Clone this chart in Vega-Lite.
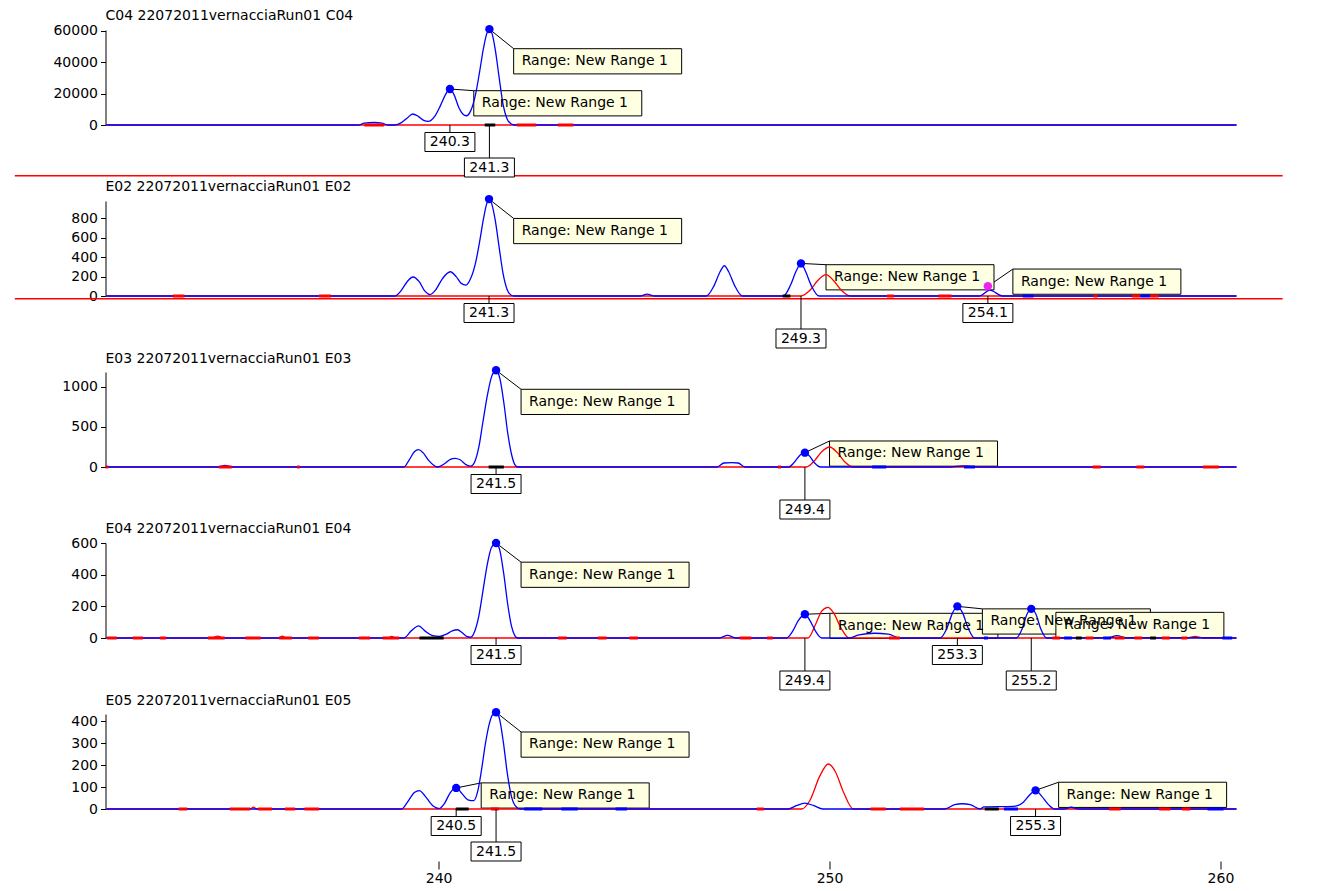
{
"$schema":"https://vega.github.io/schema/vega-lite/v6.json",
"background":"white",
"padding":{"left":13.5,"top":9,"right":5,"bottom":5},
"spacing":76,
"bounds":"flush",
"config":{
 "view":{"stroke":null},
 "font":"DejaVu Sans",
 "axis":{"labelFont":"DejaVu Sans","labelFontSize":14,"labelColor":"#000000","tickColor":"#000000","domainColor":"#000000","grid":false,"tickWidth":1,"domainWidth":1,"labelFlush":false},
 "axisY":{"tickSize":5,"labelPadding":3},
 "axisX":{"domain":false,"tickSize":8,"labelPadding":2,"offset":52},
 "title":{"font":"DejaVu Sans","fontSize":14,"fontWeight":"normal","anchor":"start","color":"#000000","frame":"group"},
 "text":{"font":"DejaVu Sans"}
},
"datasets":{
 "C04b":[{"x":231.5,"y":0},{"x":237.95,"y":0},{"x":238.1,"y":1200},{"x":238.35,"y":1600},{"x":238.55,"y":1200},{"x":238.7,"y":0},{"x":238.88,"y":0},{"x":239.05,"y":1500},{"x":239.2,"y":4500},{"x":239.34,"y":7000},{"x":239.48,"y":5500},{"x":239.62,"y":3000},{"x":239.74,"y":2300},{"x":239.9,"y":5500},{"x":240.05,"y":12500},{"x":240.18,"y":19500},{"x":240.29,"y":22900},{"x":240.4,"y":19000},{"x":240.52,"y":11000},{"x":240.62,"y":7000},{"x":240.71,"y":5900},{"x":240.82,"y":9000},{"x":240.95,"y":20000},{"x":241.05,"y":34000},{"x":241.15,"y":49000},{"x":241.23,"y":58000},{"x":241.3,"y":61000},{"x":241.37,"y":58000},{"x":241.45,"y":48000},{"x":241.55,"y":30000},{"x":241.65,"y":13000},{"x":241.75,"y":4000},{"x":241.85,"y":800},{"x":241.95,"y":0},{"x":260.41,"y":0}],
 "C04r":[{"x":231.5,"y":0},{"x":260.41,"y":0}],
 "E02b":[{"x":231.5,"y":0},{"x":238.88,"y":0},{"x":239.05,"y":60},{"x":239.2,"y":150},{"x":239.35,"y":196},{"x":239.5,"y":150},{"x":239.65,"y":50},{"x":239.78,"y":15},{"x":239.92,"y":60},{"x":240.1,"y":180},{"x":240.3,"y":250},{"x":240.45,"y":200},{"x":240.58,"y":130},{"x":240.7,"y":113},{"x":240.82,"y":180},{"x":240.95,"y":350},{"x":241.05,"y":560},{"x":241.15,"y":800},{"x":241.23,"y":950},{"x":241.29,"y":1000},{"x":241.36,"y":950},{"x":241.45,"y":780},{"x":241.55,"y":500},{"x":241.65,"y":230},{"x":241.75,"y":70},{"x":241.85,"y":10},{"x":241.93,"y":0},{"x":245.15,"y":0},{"x":245.33,"y":20},{"x":245.53,"y":0},{"x":246.85,"y":0},{"x":247.05,"y":110},{"x":247.2,"y":250},{"x":247.31,"y":312},{"x":247.42,"y":250},{"x":247.57,"y":110},{"x":247.77,"y":0},{"x":248.82,"y":0},{"x":249.0,"y":110},{"x":249.15,"y":260},{"x":249.27,"y":336},{"x":249.38,"y":260},{"x":249.53,"y":110},{"x":249.73,"y":0},{"x":253.84,"y":0},{"x":254.1,"y":60},{"x":254.43,"y":0},{"x":260.41,"y":0}],
 "E02r":[{"x":231.5,"y":0},{"x":249.26,"y":0},{"x":249.5,"y":60},{"x":249.7,"y":160},{"x":249.91,"y":220},{"x":250.1,"y":160},{"x":250.3,"y":60},{"x":250.54,"y":0},{"x":260.41,"y":0}],
 "E03b":[{"x":231.5,"y":0},{"x":234.37,"y":0},{"x":234.54,"y":20},{"x":234.71,"y":0},{"x":239.11,"y":0},{"x":239.25,"y":90},{"x":239.38,"y":190},{"x":239.49,"y":217},{"x":239.6,"y":180},{"x":239.75,"y":80},{"x":239.97,"y":0},{"x":240.15,"y":40},{"x":240.3,"y":95},{"x":240.42,"y":108},{"x":240.55,"y":90},{"x":240.7,"y":30},{"x":240.82,"y":10},{"x":240.92,"y":60},{"x":241.03,"y":250},{"x":241.13,"y":550},{"x":241.25,"y":900},{"x":241.35,"y":1120},{"x":241.47,"y":1209},{"x":241.57,"y":1100},{"x":241.67,"y":800},{"x":241.77,"y":420},{"x":241.87,"y":150},{"x":241.95,"y":30},{"x":242.02,"y":0},{"x":247.12,"y":0},{"x":247.3,"y":50},{"x":247.5,"y":54},{"x":247.66,"y":50},{"x":247.84,"y":0},{"x":248.96,"y":0},{"x":249.1,"y":60},{"x":249.25,"y":150},{"x":249.37,"y":179},{"x":249.5,"y":130},{"x":249.62,"y":50},{"x":249.77,"y":0},{"x":253.08,"y":0},{"x":253.4,"y":15},{"x":253.72,"y":0},{"x":260.41,"y":0}],
 "E03r":[{"x":231.5,"y":0},{"x":249.41,"y":0},{"x":249.6,"y":70},{"x":249.8,"y":190},{"x":250.0,"y":250},{"x":250.2,"y":180},{"x":250.4,"y":60},{"x":250.61,"y":0},{"x":260.41,"y":0}],
 "E04b":[{"x":231.5,"y":0},{"x":239.11,"y":0},{"x":239.3,"y":45},{"x":239.49,"y":77},{"x":239.65,"y":45},{"x":239.85,"y":15},{"x":240.02,"y":10},{"x":240.2,"y":25},{"x":240.35,"y":45},{"x":240.48,"y":52},{"x":240.6,"y":35},{"x":240.72,"y":10},{"x":240.82,"y":5},{"x":240.92,"y":40},{"x":241.03,"y":140},{"x":241.13,"y":290},{"x":241.25,"y":470},{"x":241.35,"y":570},{"x":241.47,"y":600},{"x":241.57,"y":550},{"x":241.67,"y":400},{"x":241.77,"y":210},{"x":241.87,"y":70},{"x":241.95,"y":15},{"x":242.02,"y":0},{"x":247.18,"y":0},{"x":247.39,"y":17},{"x":247.6,"y":0},{"x":248.9,"y":0},{"x":249.05,"y":40},{"x":249.2,"y":110},{"x":249.37,"y":150},{"x":249.5,"y":110},{"x":249.65,"y":40},{"x":249.8,"y":0},{"x":250.5,"y":0},{"x":250.75,"y":20},{"x":251.15,"y":30},{"x":251.5,"y":25},{"x":251.8,"y":0},{"x":252.83,"y":0},{"x":253.0,"y":60},{"x":253.15,"y":160},{"x":253.27,"y":200},{"x":253.4,"y":160},{"x":253.55,"y":60},{"x":253.71,"y":0},{"x":254.78,"y":0},{"x":254.93,"y":60},{"x":255.05,"y":150},{"x":255.16,"y":184},{"x":255.28,"y":150},{"x":255.4,"y":60},{"x":255.55,"y":0},{"x":257.1,"y":0},{"x":257.35,"y":15},{"x":257.6,"y":0},{"x":260.41,"y":0}],
 "E04r":[{"x":231.5,"y":0},{"x":234.2,"y":0},{"x":234.35,"y":12},{"x":234.49,"y":0},{"x":235.91,"y":0},{"x":236.0,"y":12},{"x":236.1,"y":0},{"x":238.7,"y":0},{"x":238.8,"y":10},{"x":238.9,"y":0},{"x":249.45,"y":0},{"x":249.65,"y":90},{"x":249.8,"y":170},{"x":249.96,"y":194},{"x":250.1,"y":160},{"x":250.3,"y":60},{"x":250.5,"y":0},{"x":259.15,"y":0},{"x":259.35,"y":10},{"x":259.55,"y":0},{"x":260.41,"y":0}],
 "E05b":[{"x":231.5,"y":0},{"x":239.05,"y":0},{"x":239.2,"y":30},{"x":239.38,"y":75},{"x":239.51,"y":84},{"x":239.65,"y":60},{"x":239.85,"y":15},{"x":240.02,"y":2},{"x":240.15,"y":25},{"x":240.3,"y":75},{"x":240.45,"y":96},{"x":240.6,"y":70},{"x":240.75,"y":42},{"x":240.9,"y":38},{"x":241.0,"y":80},{"x":241.1,"y":180},{"x":241.2,"y":300},{"x":241.3,"y":390},{"x":241.38,"y":430},{"x":241.47,"y":441},{"x":241.56,"y":410},{"x":241.66,"y":300},{"x":241.76,"y":160},{"x":241.86,"y":60},{"x":241.96,"y":15},{"x":242.08,"y":0},{"x":248.94,"y":0},{"x":249.15,"y":15},{"x":249.37,"y":27},{"x":249.6,"y":15},{"x":249.83,"y":0},{"x":252.95,"y":0},{"x":253.2,"y":20},{"x":253.4,"y":24},{"x":253.6,"y":20},{"x":253.85,"y":0},{"x":253.95,"y":10},{"x":254.7,"y":12},{"x":254.81,"y":15},{"x":254.95,"y":30},{"x":255.1,"y":60},{"x":255.27,"y":85},{"x":255.42,"y":60},{"x":255.6,"y":20},{"x":255.76,"y":0},{"x":256.0,"y":0},{"x":256.18,"y":8},{"x":256.37,"y":0},{"x":260.41,"y":0}],
 "E05r":[{"x":231.5,"y":0},{"x":235.18,"y":0},{"x":235.26,"y":8},{"x":235.35,"y":0},{"x":249.29,"y":0},{"x":249.5,"y":40},{"x":249.75,"y":150},{"x":249.97,"y":205},{"x":250.15,"y":170},{"x":250.35,"y":80},{"x":250.61,"y":0},{"x":260.41,"y":0}],
 "pk":[
  {"p":"C04","x":241.3,"y":61000,"lx":241.92,"ly":48550,"c":"b"},
  {"p":"C04","x":240.29,"y":22900,"lx":240.9,"ly":21830,"c":"b"},
  {"p":"E02","x":241.29,"y":1000,"lx":241.92,"ly":800,"c":"b"},
  {"p":"E02","x":249.27,"y":336,"lx":249.91,"ly":323,"c":"b"},
  {"p":"E02","x":254.05,"y":100,"lx":254.69,"ly":278,"c":"m"},
  {"p":"E03","x":241.47,"y":1209,"lx":242.11,"ly":971,"c":"b"},
  {"p":"E03","x":249.37,"y":179,"lx":250.0,"ly":325,"c":"b"},
  {"p":"E04","x":241.47,"y":600,"lx":242.11,"ly":479,"c":"b"},
  {"p":"E04","x":249.37,"y":150,"lx":250.01,"ly":156,"c":"b"},
  {"p":"E04","x":253.27,"y":200,"lx":253.91,"ly":184,"c":"b"},
  {"p":"E04","x":255.16,"y":184,"lx":255.79,"ly":162,"c":"b"},
  {"p":"E05","x":241.47,"y":441,"lx":242.11,"ly":351,"c":"b"},
  {"p":"E05","x":240.45,"y":96,"lx":241.09,"ly":119,"c":"b"},
  {"p":"E05","x":255.27,"y":85,"lx":255.86,"ly":122,"c":"b"}
 ],
 "bn":[
  {"p":"C04","x":240.29,"lab":"240.3","lvl":1},
  {"p":"C04","x":241.3,"lab":"241.3","lvl":2},
  {"p":"E02","x":241.29,"lab":"241.3","lvl":1},
  {"p":"E02","x":249.27,"lab":"249.3","lvl":2},
  {"p":"E02","x":254.05,"lab":"254.1","lvl":1},
  {"p":"E03","x":241.47,"lab":"241.5","lvl":1},
  {"p":"E03","x":249.37,"lab":"249.4","lvl":2},
  {"p":"E04","x":241.47,"lab":"241.5","lvl":1},
  {"p":"E04","x":249.37,"lab":"249.4","lvl":2},
  {"p":"E04","x":253.27,"lab":"253.3","lvl":1},
  {"p":"E04","x":255.16,"lab":"255.2","lvl":2},
  {"p":"E05","x":240.45,"lab":"240.5","lvl":1},
  {"p":"E05","x":241.47,"lab":"241.5","lvl":2},
  {"p":"E05","x":255.27,"lab":"255.3","lvl":1}
 ],
 "ds":[
  {"p":"C04","x":238.1,"x2":238.6,"c":"r"},{"p":"C04","x":241.18,"x2":241.45,"c":"k"},{"p":"C04","x":242.0,"x2":242.5,"c":"r"},{"p":"C04","x":243.05,"x2":243.45,"c":"r"},
  {"p":"E02","x":233.2,"x2":233.5,"c":"r"},{"p":"E02","x":236.94,"x2":237.25,"c":"r"},{"p":"E02","x":248.8,"x2":249.0,"c":"k"},{"p":"E02","x":251.47,"x2":251.65,"c":"r"},{"p":"E02","x":252.78,"x2":253.12,"c":"r"},{"p":"E02","x":254.94,"x2":255.22,"c":"b"},{"p":"E02","x":256.75,"x2":256.85,"c":"r"},{"p":"E02","x":257.73,"x2":257.95,"c":"r"},{"p":"E02","x":257.95,"x2":258.2,"c":"b"},{"p":"E02","x":258.2,"x2":258.42,"c":"r"},
  {"p":"E03","x":231.48,"x2":231.55,"c":"r"},{"p":"E03","x":234.38,"x2":234.71,"c":"r"},{"p":"E03","x":236.38,"x2":236.45,"c":"r"},{"p":"E03","x":241.28,"x2":241.67,"c":"k"},{"p":"E03","x":248.68,"x2":248.76,"c":"r"},{"p":"E03","x":251.09,"x2":251.45,"c":"b"},{"p":"E03","x":253.44,"x2":253.72,"c":"b"},{"p":"E03","x":256.73,"x2":256.94,"c":"r"},{"p":"E03","x":257.85,"x2":258.05,"c":"r"},{"p":"E03","x":259.55,"x2":259.96,"c":"r"},
  {"p":"E04","x":231.52,"x2":231.77,"c":"r"},{"p":"E04","x":232.18,"x2":232.44,"c":"r"},{"p":"E04","x":232.87,"x2":233.03,"c":"r"},{"p":"E04","x":234.1,"x2":234.53,"c":"r"},{"p":"E04","x":235.06,"x2":235.45,"c":"r"},{"p":"E04","x":235.92,"x2":236.25,"c":"r"},{"p":"E04","x":236.66,"x2":236.94,"c":"r"},{"p":"E04","x":237.96,"x2":238.25,"c":"r"},{"p":"E04","x":238.57,"x2":238.99,"c":"r"},{"p":"E04","x":239.51,"x2":240.13,"c":"k"},{"p":"E04","x":243.05,"x2":243.28,"c":"r"},{"p":"E04","x":244.07,"x2":244.3,"c":"r"},{"p":"E04","x":244.88,"x2":245.1,"c":"r"},{"p":"E04","x":247.7,"x2":248.0,"c":"r"},{"p":"E04","x":248.4,"x2":248.55,"c":"r"},{"p":"E04","x":251.52,"x2":251.8,"c":"r"},{"p":"E04","x":253.95,"x2":254.05,"c":"b"},{"p":"E04","x":255.7,"x2":255.9,"c":"r"},{"p":"E04","x":256.0,"x2":256.2,"c":"b"},{"p":"E04","x":256.3,"x2":256.45,"c":"k"},{"p":"E04","x":256.55,"x2":256.75,"c":"r"},{"p":"E04","x":257.0,"x2":257.2,"c":"b"},{"p":"E04","x":257.3,"x2":257.55,"c":"r"},{"p":"E04","x":257.8,"x2":258.0,"c":"r"},{"p":"E04","x":258.2,"x2":258.35,"c":"k"},{"p":"E04","x":258.5,"x2":258.7,"c":"r"},{"p":"E04","x":259.0,"x2":259.15,"c":"r"},{"p":"E04","x":260.05,"x2":260.3,"c":"b"},
  {"p":"E05","x":233.35,"x2":233.57,"c":"r"},{"p":"E05","x":234.66,"x2":235.18,"c":"r"},{"p":"E05","x":235.38,"x2":235.74,"c":"r"},{"p":"E05","x":236.07,"x2":236.33,"c":"r"},{"p":"E05","x":236.57,"x2":236.94,"c":"r"},{"p":"E05","x":240.44,"x2":240.77,"c":"k"},{"p":"E05","x":241.34,"x2":241.54,"c":"r"},{"p":"E05","x":242.19,"x2":242.65,"c":"b"},{"p":"E05","x":243.14,"x2":243.56,"c":"b"},{"p":"E05","x":244.53,"x2":244.82,"c":"b"},{"p":"E05","x":248.14,"x2":248.32,"c":"r"},{"p":"E05","x":251.05,"x2":251.44,"c":"r"},{"p":"E05","x":251.8,"x2":252.42,"c":"r"},{"p":"E05","x":253.97,"x2":254.33,"c":"k"},{"p":"E05","x":254.46,"x2":254.82,"c":"b"},{"p":"E05","x":257.15,"x2":257.45,"c":"r"},{"p":"E05","x":258.43,"x2":258.72,"c":"r"},{"p":"E05","x":259.02,"x2":259.23,"c":"r"},{"p":"E05","x":259.67,"x2":260.08,"c":"b"}
 ],
 "one":[{"k":1}]
},
"vconcat":[
 {"width":1131,"height":95,"title":{"text":"C04 22072011vernacciaRun01 C04","offset":-10.5,"baseline":"alphabetic","frame":"group","anchor":"start"},
  "layer":[
   {"data":{"name":"one"},"mark":{"type":"rule","color":"#ff0000","strokeWidth":1.5},
    "encoding":{"x":{"datum":229.16,"type":"quantitative","axis":null,"title":null},"x2":{"datum":261.59},"y":{"datum":-32260,"type":"quantitative","title":null}}},
   {"data":{"name":"pk"},"transform":[{"filter":"datum.p=='C04'"}],"mark":{"type":"rule","color":"#000000","strokeWidth":1},
    "encoding":{"x":{"field":"x","type":"quantitative","axis":null,"title":null},"y":{"field":"y","type":"quantitative","title":null},"x2":{"field":"lx"},"y2":{"field":"ly"}}},
   {"data":{"name":"pk"},"transform":[{"filter":"datum.p=='C04'"}],"mark":{"type":"point","shape":"M0,0L2,0L2,0.3L0,0.3Z","size":28224,"filled":true,"fill":"#ffffe1","stroke":"#000000","strokeWidth":1,"opacity":1},
    "encoding":{"x":{"field":"lx","type":"quantitative","axis":null,"title":null},"y":{"field":"ly","type":"quantitative","title":null}}},
   {"data":{"name":"C04r"},"mark":{"type":"line","color":"#ff0000","strokeWidth":1.3,"interpolate":"monotone"},
    "encoding":{"x":{"field":"x","type":"quantitative","scale":{"domain":[231.48,260.41],"nice":false,"zero":false},"axis":null,"title":null},
                "y":{"field":"y","type":"quantitative","scale":{"domain":[0,60450],"nice":false,"zero":false},"axis":{"values":[0,20000,40000,60000],"tickCount":20,"format":"d","title":null},"title":null}}},
   {"data":{"name":"C04b"},"mark":{"type":"line","color":"#0000ff","strokeWidth":1.3,"interpolate":"monotone"},
    "encoding":{"x":{"field":"x","type":"quantitative","axis":null,"title":null},"y":{"field":"y","type":"quantitative","title":null}}},
   {"data":{"name":"ds"},"transform":[{"filter":"datum.p=='C04'"}],"mark":{"type":"rule","strokeWidth":3},
    "encoding":{"x":{"field":"x","type":"quantitative","axis":null,"title":null},"x2":{"field":"x2"},"y":{"datum":0,"type":"quantitative","title":null},"color":{"field":"c","type":"nominal","scale":{"domain":["r","k","b","m"],"range":["#ff0000","#000000","#0000ff","#ee22ee"]},"legend":null}}},
   {"data":{"name":"pk"},"transform":[{"filter":"datum.p=='C04'"}],"mark":{"type":"text","text":"Range: New Range 1","align":"left","baseline":"middle","dx":8,"dy":12.5,"fontSize":14,"color":"#000000"},
    "encoding":{"x":{"field":"lx","type":"quantitative","axis":null,"title":null},"y":{"field":"ly","type":"quantitative","title":null}}},
   {"data":{"name":"pk"},"transform":[{"filter":"datum.p=='C04'"}],"mark":{"type":"point","shape":"circle","size":70,"filled":true,"opacity":1},
    "encoding":{"x":{"field":"x","type":"quantitative","axis":null,"title":null},"y":{"field":"y","type":"quantitative","title":null},"color":{"field":"c","type":"nominal","scale":{"domain":["r","k","b","m"],"range":["#ff0000","#000000","#0000ff","#ee22ee"]},"legend":null}}},
   {"data":{"name":"bn"},"transform":[{"filter":"datum.p=='C04' && datum.lvl==1"}],"mark":{"type":"rule","color":"#000000","y2Offset":7.5},
    "encoding":{"x":{"field":"x","type":"quantitative","axis":null,"title":null},"y":{"datum":0,"type":"quantitative","title":null},"y2":{"datum":0}}},
   {"data":{"name":"bn"},"transform":[{"filter":"datum.p=='C04' && datum.lvl==1"}],"mark":{"type":"point","shape":"M-1,0L1,0L1,0.76L-1,0.76Z","size":2500,"filled":true,"fill":"#ffffff","stroke":"#000000","strokeWidth":1,"opacity":1,"yOffset":7.5},
    "encoding":{"x":{"field":"x","type":"quantitative","axis":null,"title":null},"y":{"datum":0,"type":"quantitative","title":null}}},
   {"data":{"name":"bn"},"transform":[{"filter":"datum.p=='C04' && datum.lvl==1"}],"mark":{"type":"text","align":"center","baseline":"middle","fontSize":14,"color":"#000000","yOffset":17},
    "encoding":{"x":{"field":"x","type":"quantitative","axis":null,"title":null},"y":{"datum":0,"type":"quantitative","title":null},"text":{"field":"lab","type":"nominal"}}},
   {"data":{"name":"bn"},"transform":[{"filter":"datum.p=='C04' && datum.lvl==2"}],"mark":{"type":"rule","color":"#000000","y2Offset":33},
    "encoding":{"x":{"field":"x","type":"quantitative","axis":null,"title":null},"y":{"datum":0,"type":"quantitative","title":null},"y2":{"datum":0}}},
   {"data":{"name":"bn"},"transform":[{"filter":"datum.p=='C04' && datum.lvl==2"}],"mark":{"type":"point","shape":"M-1,0L1,0L1,0.76L-1,0.76Z","size":2500,"filled":true,"fill":"#ffffff","stroke":"#000000","strokeWidth":1,"opacity":1,"yOffset":33},
    "encoding":{"x":{"field":"x","type":"quantitative","axis":null,"title":null},"y":{"datum":0,"type":"quantitative","title":null}}},
   {"data":{"name":"bn"},"transform":[{"filter":"datum.p=='C04' && datum.lvl==2"}],"mark":{"type":"text","align":"center","baseline":"middle","fontSize":14,"color":"#000000","yOffset":42.5},
    "encoding":{"x":{"field":"x","type":"quantitative","axis":null,"title":null},"y":{"datum":0,"type":"quantitative","title":null},"text":{"field":"lab","type":"nominal"}}}
  ]},
 {"width":1131,"height":95,"title":{"text":"E02 22072011vernacciaRun01 E02","offset":-10.5,"baseline":"alphabetic","frame":"group","anchor":"start"},
  "layer":[
   {"data":{"name":"one"},"mark":{"type":"rule","color":"#ff0000","strokeWidth":1.5},
    "encoding":{"x":{"datum":229.16,"type":"quantitative","axis":null,"title":null},"x2":{"datum":261.59},"y":{"datum":-28,"type":"quantitative","title":null}}},
   {"data":{"name":"pk"},"transform":[{"filter":"datum.p=='E02'"}],"mark":{"type":"rule","color":"#000000","strokeWidth":1},
    "encoding":{"x":{"field":"x","type":"quantitative","axis":null,"title":null},"y":{"field":"y","type":"quantitative","title":null},"x2":{"field":"lx"},"y2":{"field":"ly"}}},
   {"data":{"name":"pk"},"transform":[{"filter":"datum.p=='E02'"}],"mark":{"type":"point","shape":"M0,0L2,0L2,0.3L0,0.3Z","size":28224,"filled":true,"fill":"#ffffe1","stroke":"#000000","strokeWidth":1,"opacity":1},
    "encoding":{"x":{"field":"lx","type":"quantitative","axis":null,"title":null},"y":{"field":"ly","type":"quantitative","title":null}}},
   {"data":{"name":"E02r"},"mark":{"type":"line","color":"#ff0000","strokeWidth":1.3,"interpolate":"monotone"},
    "encoding":{"x":{"field":"x","type":"quantitative","scale":{"domain":[231.48,260.41],"nice":false,"zero":false},"axis":null,"title":null},
                "y":{"field":"y","type":"quantitative","scale":{"domain":[0,980],"nice":false,"zero":false},"axis":{"values":[0,200,400,600,800],"tickCount":20,"format":"d","title":null},"title":null}}},
   {"data":{"name":"E02b"},"mark":{"type":"line","color":"#0000ff","strokeWidth":1.3,"interpolate":"monotone"},
    "encoding":{"x":{"field":"x","type":"quantitative","axis":null,"title":null},"y":{"field":"y","type":"quantitative","title":null}}},
   {"data":{"name":"ds"},"transform":[{"filter":"datum.p=='E02'"}],"mark":{"type":"rule","strokeWidth":3},
    "encoding":{"x":{"field":"x","type":"quantitative","axis":null,"title":null},"x2":{"field":"x2"},"y":{"datum":0,"type":"quantitative","title":null},"color":{"field":"c","type":"nominal","scale":{"domain":["r","k","b","m"],"range":["#ff0000","#000000","#0000ff","#ee22ee"]},"legend":null}}},
   {"data":{"name":"pk"},"transform":[{"filter":"datum.p=='E02'"}],"mark":{"type":"text","text":"Range: New Range 1","align":"left","baseline":"middle","dx":8,"dy":12.5,"fontSize":14,"color":"#000000"},
    "encoding":{"x":{"field":"lx","type":"quantitative","axis":null,"title":null},"y":{"field":"ly","type":"quantitative","title":null}}},
   {"data":{"name":"pk"},"transform":[{"filter":"datum.p=='E02'"}],"mark":{"type":"point","shape":"circle","size":70,"filled":true,"opacity":1},
    "encoding":{"x":{"field":"x","type":"quantitative","axis":null,"title":null},"y":{"field":"y","type":"quantitative","title":null},"color":{"field":"c","type":"nominal","scale":{"domain":["r","k","b","m"],"range":["#ff0000","#000000","#0000ff","#ee22ee"]},"legend":null}}},
   {"data":{"name":"bn"},"transform":[{"filter":"datum.p=='E02' && datum.lvl==1"}],"mark":{"type":"rule","color":"#000000","y2Offset":7.5},
    "encoding":{"x":{"field":"x","type":"quantitative","axis":null,"title":null},"y":{"datum":0,"type":"quantitative","title":null},"y2":{"datum":0}}},
   {"data":{"name":"bn"},"transform":[{"filter":"datum.p=='E02' && datum.lvl==1"}],"mark":{"type":"point","shape":"M-1,0L1,0L1,0.76L-1,0.76Z","size":2500,"filled":true,"fill":"#ffffff","stroke":"#000000","strokeWidth":1,"opacity":1,"yOffset":7.5},
    "encoding":{"x":{"field":"x","type":"quantitative","axis":null,"title":null},"y":{"datum":0,"type":"quantitative","title":null}}},
   {"data":{"name":"bn"},"transform":[{"filter":"datum.p=='E02' && datum.lvl==1"}],"mark":{"type":"text","align":"center","baseline":"middle","fontSize":14,"color":"#000000","yOffset":17},
    "encoding":{"x":{"field":"x","type":"quantitative","axis":null,"title":null},"y":{"datum":0,"type":"quantitative","title":null},"text":{"field":"lab","type":"nominal"}}},
   {"data":{"name":"bn"},"transform":[{"filter":"datum.p=='E02' && datum.lvl==2"}],"mark":{"type":"rule","color":"#000000","y2Offset":33},
    "encoding":{"x":{"field":"x","type":"quantitative","axis":null,"title":null},"y":{"datum":0,"type":"quantitative","title":null},"y2":{"datum":0}}},
   {"data":{"name":"bn"},"transform":[{"filter":"datum.p=='E02' && datum.lvl==2"}],"mark":{"type":"point","shape":"M-1,0L1,0L1,0.76L-1,0.76Z","size":2500,"filled":true,"fill":"#ffffff","stroke":"#000000","strokeWidth":1,"opacity":1,"yOffset":33},
    "encoding":{"x":{"field":"x","type":"quantitative","axis":null,"title":null},"y":{"datum":0,"type":"quantitative","title":null}}},
   {"data":{"name":"bn"},"transform":[{"filter":"datum.p=='E02' && datum.lvl==2"}],"mark":{"type":"text","align":"center","baseline":"middle","fontSize":14,"color":"#000000","yOffset":42.5},
    "encoding":{"x":{"field":"x","type":"quantitative","axis":null,"title":null},"y":{"datum":0,"type":"quantitative","title":null},"text":{"field":"lab","type":"nominal"}}}
  ]},
 {"width":1131,"height":95,"title":{"text":"E03 22072011vernacciaRun01 E03","offset":-10.5,"baseline":"alphabetic","frame":"group","anchor":"start"},
  "layer":[
   {"data":{"name":"pk"},"transform":[{"filter":"datum.p=='E03'"}],"mark":{"type":"rule","color":"#000000","strokeWidth":1},
    "encoding":{"x":{"field":"x","type":"quantitative","axis":null,"title":null},"y":{"field":"y","type":"quantitative","title":null},"x2":{"field":"lx"},"y2":{"field":"ly"}}},
   {"data":{"name":"pk"},"transform":[{"filter":"datum.p=='E03'"}],"mark":{"type":"point","shape":"M0,0L2,0L2,0.3L0,0.3Z","size":28224,"filled":true,"fill":"#ffffe1","stroke":"#000000","strokeWidth":1,"opacity":1},
    "encoding":{"x":{"field":"lx","type":"quantitative","axis":null,"title":null},"y":{"field":"ly","type":"quantitative","title":null}}},
   {"data":{"name":"E03r"},"mark":{"type":"line","color":"#ff0000","strokeWidth":1.3,"interpolate":"monotone"},
    "encoding":{"x":{"field":"x","type":"quantitative","scale":{"domain":[231.48,260.41],"nice":false,"zero":false},"axis":null,"title":null},
                "y":{"field":"y","type":"quantitative","scale":{"domain":[0,1187],"nice":false,"zero":false},"axis":{"values":[0,500,1000],"tickCount":20,"format":"d","title":null},"title":null}}},
   {"data":{"name":"E03b"},"mark":{"type":"line","color":"#0000ff","strokeWidth":1.3,"interpolate":"monotone"},
    "encoding":{"x":{"field":"x","type":"quantitative","axis":null,"title":null},"y":{"field":"y","type":"quantitative","title":null}}},
   {"data":{"name":"ds"},"transform":[{"filter":"datum.p=='E03'"}],"mark":{"type":"rule","strokeWidth":3},
    "encoding":{"x":{"field":"x","type":"quantitative","axis":null,"title":null},"x2":{"field":"x2"},"y":{"datum":0,"type":"quantitative","title":null},"color":{"field":"c","type":"nominal","scale":{"domain":["r","k","b","m"],"range":["#ff0000","#000000","#0000ff","#ee22ee"]},"legend":null}}},
   {"data":{"name":"pk"},"transform":[{"filter":"datum.p=='E03'"}],"mark":{"type":"text","text":"Range: New Range 1","align":"left","baseline":"middle","dx":8,"dy":12.5,"fontSize":14,"color":"#000000"},
    "encoding":{"x":{"field":"lx","type":"quantitative","axis":null,"title":null},"y":{"field":"ly","type":"quantitative","title":null}}},
   {"data":{"name":"pk"},"transform":[{"filter":"datum.p=='E03'"}],"mark":{"type":"point","shape":"circle","size":70,"filled":true,"opacity":1},
    "encoding":{"x":{"field":"x","type":"quantitative","axis":null,"title":null},"y":{"field":"y","type":"quantitative","title":null},"color":{"field":"c","type":"nominal","scale":{"domain":["r","k","b","m"],"range":["#ff0000","#000000","#0000ff","#ee22ee"]},"legend":null}}},
   {"data":{"name":"bn"},"transform":[{"filter":"datum.p=='E03' && datum.lvl==1"}],"mark":{"type":"rule","color":"#000000","y2Offset":7.5},
    "encoding":{"x":{"field":"x","type":"quantitative","axis":null,"title":null},"y":{"datum":0,"type":"quantitative","title":null},"y2":{"datum":0}}},
   {"data":{"name":"bn"},"transform":[{"filter":"datum.p=='E03' && datum.lvl==1"}],"mark":{"type":"point","shape":"M-1,0L1,0L1,0.76L-1,0.76Z","size":2500,"filled":true,"fill":"#ffffff","stroke":"#000000","strokeWidth":1,"opacity":1,"yOffset":7.5},
    "encoding":{"x":{"field":"x","type":"quantitative","axis":null,"title":null},"y":{"datum":0,"type":"quantitative","title":null}}},
   {"data":{"name":"bn"},"transform":[{"filter":"datum.p=='E03' && datum.lvl==1"}],"mark":{"type":"text","align":"center","baseline":"middle","fontSize":14,"color":"#000000","yOffset":17},
    "encoding":{"x":{"field":"x","type":"quantitative","axis":null,"title":null},"y":{"datum":0,"type":"quantitative","title":null},"text":{"field":"lab","type":"nominal"}}},
   {"data":{"name":"bn"},"transform":[{"filter":"datum.p=='E03' && datum.lvl==2"}],"mark":{"type":"rule","color":"#000000","y2Offset":33},
    "encoding":{"x":{"field":"x","type":"quantitative","axis":null,"title":null},"y":{"datum":0,"type":"quantitative","title":null},"y2":{"datum":0}}},
   {"data":{"name":"bn"},"transform":[{"filter":"datum.p=='E03' && datum.lvl==2"}],"mark":{"type":"point","shape":"M-1,0L1,0L1,0.76L-1,0.76Z","size":2500,"filled":true,"fill":"#ffffff","stroke":"#000000","strokeWidth":1,"opacity":1,"yOffset":33},
    "encoding":{"x":{"field":"x","type":"quantitative","axis":null,"title":null},"y":{"datum":0,"type":"quantitative","title":null}}},
   {"data":{"name":"bn"},"transform":[{"filter":"datum.p=='E03' && datum.lvl==2"}],"mark":{"type":"text","align":"center","baseline":"middle","fontSize":14,"color":"#000000","yOffset":42.5},
    "encoding":{"x":{"field":"x","type":"quantitative","axis":null,"title":null},"y":{"datum":0,"type":"quantitative","title":null},"text":{"field":"lab","type":"nominal"}}}
  ]},
 {"width":1131,"height":95,"title":{"text":"E04 22072011vernacciaRun01 E04","offset":-10.5,"baseline":"alphabetic","frame":"group","anchor":"start"},
  "layer":[
   {"data":{"name":"pk"},"transform":[{"filter":"datum.p=='E04'"}],"mark":{"type":"rule","color":"#000000","strokeWidth":1},
    "encoding":{"x":{"field":"x","type":"quantitative","axis":null,"title":null},"y":{"field":"y","type":"quantitative","title":null},"x2":{"field":"lx"},"y2":{"field":"ly"}}},
   {"data":{"name":"pk"},"transform":[{"filter":"datum.p=='E04'"}],"mark":{"type":"point","shape":"M0,0L2,0L2,0.3L0,0.3Z","size":28224,"filled":true,"fill":"#ffffe1","stroke":"#000000","strokeWidth":1,"opacity":1},
    "encoding":{"x":{"field":"lx","type":"quantitative","axis":null,"title":null},"y":{"field":"ly","type":"quantitative","title":null}}},
   {"data":{"name":"E04r"},"mark":{"type":"line","color":"#ff0000","strokeWidth":1.3,"interpolate":"monotone"},
    "encoding":{"x":{"field":"x","type":"quantitative","scale":{"domain":[231.48,260.41],"nice":false,"zero":false},"axis":null,"title":null},
                "y":{"field":"y","type":"quantitative","scale":{"domain":[0,600],"nice":false,"zero":false},"axis":{"values":[0,200,400,600],"tickCount":20,"format":"d","title":null},"title":null}}},
   {"data":{"name":"E04b"},"mark":{"type":"line","color":"#0000ff","strokeWidth":1.3,"interpolate":"monotone"},
    "encoding":{"x":{"field":"x","type":"quantitative","axis":null,"title":null},"y":{"field":"y","type":"quantitative","title":null}}},
   {"data":{"name":"ds"},"transform":[{"filter":"datum.p=='E04'"}],"mark":{"type":"rule","strokeWidth":3},
    "encoding":{"x":{"field":"x","type":"quantitative","axis":null,"title":null},"x2":{"field":"x2"},"y":{"datum":0,"type":"quantitative","title":null},"color":{"field":"c","type":"nominal","scale":{"domain":["r","k","b","m"],"range":["#ff0000","#000000","#0000ff","#ee22ee"]},"legend":null}}},
   {"data":{"name":"pk"},"transform":[{"filter":"datum.p=='E04'"}],"mark":{"type":"text","text":"Range: New Range 1","align":"left","baseline":"middle","dx":8,"dy":12.5,"fontSize":14,"color":"#000000"},
    "encoding":{"x":{"field":"lx","type":"quantitative","axis":null,"title":null},"y":{"field":"ly","type":"quantitative","title":null}}},
   {"data":{"name":"pk"},"transform":[{"filter":"datum.p=='E04'"}],"mark":{"type":"point","shape":"circle","size":70,"filled":true,"opacity":1},
    "encoding":{"x":{"field":"x","type":"quantitative","axis":null,"title":null},"y":{"field":"y","type":"quantitative","title":null},"color":{"field":"c","type":"nominal","scale":{"domain":["r","k","b","m"],"range":["#ff0000","#000000","#0000ff","#ee22ee"]},"legend":null}}},
   {"data":{"name":"bn"},"transform":[{"filter":"datum.p=='E04' && datum.lvl==1"}],"mark":{"type":"rule","color":"#000000","y2Offset":7.5},
    "encoding":{"x":{"field":"x","type":"quantitative","axis":null,"title":null},"y":{"datum":0,"type":"quantitative","title":null},"y2":{"datum":0}}},
   {"data":{"name":"bn"},"transform":[{"filter":"datum.p=='E04' && datum.lvl==1"}],"mark":{"type":"point","shape":"M-1,0L1,0L1,0.76L-1,0.76Z","size":2500,"filled":true,"fill":"#ffffff","stroke":"#000000","strokeWidth":1,"opacity":1,"yOffset":7.5},
    "encoding":{"x":{"field":"x","type":"quantitative","axis":null,"title":null},"y":{"datum":0,"type":"quantitative","title":null}}},
   {"data":{"name":"bn"},"transform":[{"filter":"datum.p=='E04' && datum.lvl==1"}],"mark":{"type":"text","align":"center","baseline":"middle","fontSize":14,"color":"#000000","yOffset":17},
    "encoding":{"x":{"field":"x","type":"quantitative","axis":null,"title":null},"y":{"datum":0,"type":"quantitative","title":null},"text":{"field":"lab","type":"nominal"}}},
   {"data":{"name":"bn"},"transform":[{"filter":"datum.p=='E04' && datum.lvl==2"}],"mark":{"type":"rule","color":"#000000","y2Offset":33},
    "encoding":{"x":{"field":"x","type":"quantitative","axis":null,"title":null},"y":{"datum":0,"type":"quantitative","title":null},"y2":{"datum":0}}},
   {"data":{"name":"bn"},"transform":[{"filter":"datum.p=='E04' && datum.lvl==2"}],"mark":{"type":"point","shape":"M-1,0L1,0L1,0.76L-1,0.76Z","size":2500,"filled":true,"fill":"#ffffff","stroke":"#000000","strokeWidth":1,"opacity":1,"yOffset":33},
    "encoding":{"x":{"field":"x","type":"quantitative","axis":null,"title":null},"y":{"datum":0,"type":"quantitative","title":null}}},
   {"data":{"name":"bn"},"transform":[{"filter":"datum.p=='E04' && datum.lvl==2"}],"mark":{"type":"text","align":"center","baseline":"middle","fontSize":14,"color":"#000000","yOffset":42.5},
    "encoding":{"x":{"field":"x","type":"quantitative","axis":null,"title":null},"y":{"datum":0,"type":"quantitative","title":null},"text":{"field":"lab","type":"nominal"}}}
  ]},
 {"width":1131,"height":95,"title":{"text":"E05 22072011vernacciaRun01 E05","offset":-10.5,"baseline":"alphabetic","frame":"group","anchor":"start"},
  "layer":[
   {"data":{"name":"pk"},"transform":[{"filter":"datum.p=='E05'"}],"mark":{"type":"rule","color":"#000000","strokeWidth":1},
    "encoding":{"x":{"field":"x","type":"quantitative","title":null},"y":{"field":"y","type":"quantitative","title":null},"x2":{"field":"lx"},"y2":{"field":"ly"}}},
   {"data":{"name":"pk"},"transform":[{"filter":"datum.p=='E05'"}],"mark":{"type":"point","shape":"M0,0L2,0L2,0.3L0,0.3Z","size":28224,"filled":true,"fill":"#ffffe1","stroke":"#000000","strokeWidth":1,"opacity":1},
    "encoding":{"x":{"field":"lx","type":"quantitative","title":null},"y":{"field":"ly","type":"quantitative","title":null}}},
   {"data":{"name":"E05r"},"mark":{"type":"line","color":"#ff0000","strokeWidth":1.3,"interpolate":"monotone"},
    "encoding":{"x":{"field":"x","type":"quantitative","scale":{"domain":[231.48,260.41],"nice":false,"zero":false},"axis":{"values":[240,250,260],"tickCount":40,"title":null},"title":null},
                "y":{"field":"y","type":"quantitative","scale":{"domain":[0,433],"nice":false,"zero":false},"axis":{"values":[0,100,200,300,400],"tickCount":20,"format":"d","title":null},"title":null}}},
   {"data":{"name":"E05b"},"mark":{"type":"line","color":"#0000ff","strokeWidth":1.3,"interpolate":"monotone"},
    "encoding":{"x":{"field":"x","type":"quantitative","title":null},"y":{"field":"y","type":"quantitative","title":null}}},
   {"data":{"name":"ds"},"transform":[{"filter":"datum.p=='E05'"}],"mark":{"type":"rule","strokeWidth":3},
    "encoding":{"x":{"field":"x","type":"quantitative","title":null},"x2":{"field":"x2"},"y":{"datum":0,"type":"quantitative","title":null},"color":{"field":"c","type":"nominal","scale":{"domain":["r","k","b","m"],"range":["#ff0000","#000000","#0000ff","#ee22ee"]},"legend":null}}},
   {"data":{"name":"pk"},"transform":[{"filter":"datum.p=='E05'"}],"mark":{"type":"text","text":"Range: New Range 1","align":"left","baseline":"middle","dx":8,"dy":12.5,"fontSize":14,"color":"#000000"},
    "encoding":{"x":{"field":"lx","type":"quantitative","title":null},"y":{"field":"ly","type":"quantitative","title":null}}},
   {"data":{"name":"pk"},"transform":[{"filter":"datum.p=='E05'"}],"mark":{"type":"point","shape":"circle","size":70,"filled":true,"opacity":1},
    "encoding":{"x":{"field":"x","type":"quantitative","title":null},"y":{"field":"y","type":"quantitative","title":null},"color":{"field":"c","type":"nominal","scale":{"domain":["r","k","b","m"],"range":["#ff0000","#000000","#0000ff","#ee22ee"]},"legend":null}}},
   {"data":{"name":"bn"},"transform":[{"filter":"datum.p=='E05' && datum.lvl==1"}],"mark":{"type":"rule","color":"#000000","y2Offset":7.5},
    "encoding":{"x":{"field":"x","type":"quantitative","title":null},"y":{"datum":0,"type":"quantitative","title":null},"y2":{"datum":0}}},
   {"data":{"name":"bn"},"transform":[{"filter":"datum.p=='E05' && datum.lvl==1"}],"mark":{"type":"point","shape":"M-1,0L1,0L1,0.76L-1,0.76Z","size":2500,"filled":true,"fill":"#ffffff","stroke":"#000000","strokeWidth":1,"opacity":1,"yOffset":7.5},
    "encoding":{"x":{"field":"x","type":"quantitative","title":null},"y":{"datum":0,"type":"quantitative","title":null}}},
   {"data":{"name":"bn"},"transform":[{"filter":"datum.p=='E05' && datum.lvl==1"}],"mark":{"type":"text","align":"center","baseline":"middle","fontSize":14,"color":"#000000","yOffset":17},
    "encoding":{"x":{"field":"x","type":"quantitative","title":null},"y":{"datum":0,"type":"quantitative","title":null},"text":{"field":"lab","type":"nominal"}}},
   {"data":{"name":"bn"},"transform":[{"filter":"datum.p=='E05' && datum.lvl==2"}],"mark":{"type":"rule","color":"#000000","y2Offset":33},
    "encoding":{"x":{"field":"x","type":"quantitative","title":null},"y":{"datum":0,"type":"quantitative","title":null},"y2":{"datum":0}}},
   {"data":{"name":"bn"},"transform":[{"filter":"datum.p=='E05' && datum.lvl==2"}],"mark":{"type":"point","shape":"M-1,0L1,0L1,0.76L-1,0.76Z","size":2500,"filled":true,"fill":"#ffffff","stroke":"#000000","strokeWidth":1,"opacity":1,"yOffset":33},
    "encoding":{"x":{"field":"x","type":"quantitative","title":null},"y":{"datum":0,"type":"quantitative","title":null}}},
   {"data":{"name":"bn"},"transform":[{"filter":"datum.p=='E05' && datum.lvl==2"}],"mark":{"type":"text","align":"center","baseline":"middle","fontSize":14,"color":"#000000","yOffset":42.5},
    "encoding":{"x":{"field":"x","type":"quantitative","title":null},"y":{"datum":0,"type":"quantitative","title":null},"text":{"field":"lab","type":"nominal"}}}
  ]}
]
}
